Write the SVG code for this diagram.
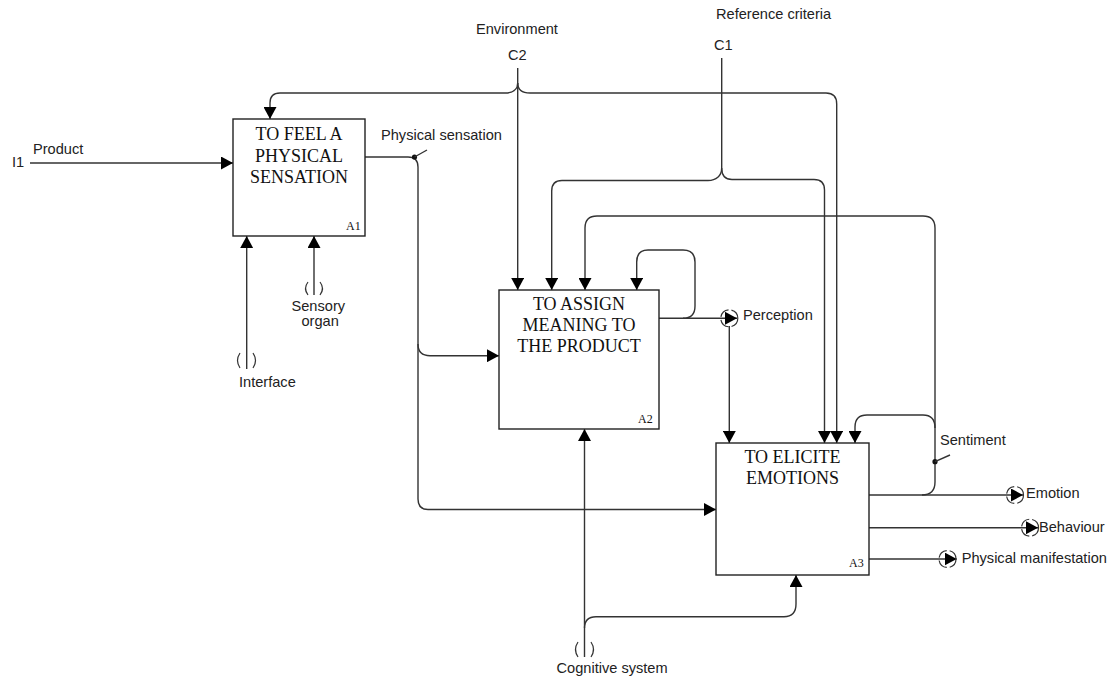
<svg xmlns="http://www.w3.org/2000/svg" width="1114" height="681" viewBox="0 0 1114 681">
<style>
.box{fill:#fff;stroke:#222;stroke-width:1.4}
.t{font-family:"Liberation Serif","Times New Roman",serif;font-size:18px;fill:#111;text-anchor:middle}
.n{font-family:"Liberation Serif","Times New Roman",serif;font-size:12px;fill:#111}
.l{font-family:"Liberation Sans",Arial,sans-serif;font-size:14.6px;fill:#222}
.c{fill:none;stroke:#333;stroke-width:1.4}
.a{marker-end:url(#ah)}
.tun{fill:none;stroke:#333;stroke-width:1.2}
.dot{fill:#111}
</style>
<defs>
<marker id="ah" markerUnits="userSpaceOnUse" markerWidth="12" markerHeight="13" refX="12" refY="6.5" orient="auto">
<path d="M0,0 L12,6.5 L0,13 z" fill="#000"/>
</marker>
</defs>
<rect width="1114" height="681" fill="#fff"/>
<g id="connectors">
<!-- Product -->
<path class="c a" d="M30 163 H233"/>
<!-- Environment C2 -->
<path class="c a" d="M517.7 68 V290"/>
<path class="c a" d="M517.7 83 C517.7 90 512 93 505 93 H280 Q270 93 270 103 V119"/>
<path class="c a" d="M517.7 83 C517.7 90 523 93 530 93 H826 Q836.7 93 836.7 104 V443"/>
<!-- Reference criteria C1 -->
<path class="c" d="M721.7 58 V168"/>
<path class="c a" d="M721.7 168 C721.7 176 716 180.5 708 180.5 H562 Q551.7 180.5 551.7 191 V290"/>
<path class="c a" d="M721.7 168 C721.7 176 726 179.5 732 179.5 H814 Q824.5 179.5 824.5 190 V443"/>
<!-- Physical sensation -->
<path class="c a" d="M365 157 H408 Q418 157 418 167 V499 Q418 509.5 428 509.5 H716"/>
<path class="c a" d="M418 344 Q418 355.7 430 355.7 H499"/>
<circle class="dot" cx="414.5" cy="157" r="2.6"/>
<path class="c" d="M414.5 157 L427 150"/>
<!-- Interface -->
<path class="c a" d="M246.7 369 V236"/>
<path class="tun" d="M240 353 Q235 360.5 240 368 M253 353 Q258 360.5 253 368"/>
<!-- Sensory organ -->
<path class="c a" d="M314 295 V236"/>
<path class="tun" d="M308 282 Q303 288.5 308 295 M320 282 Q325 288.5 320 295"/>
<!-- Cognitive system -->
<path class="c a" d="M584.5 657 V429"/>
<path class="c a" d="M584.5 628 Q584.5 616.7 596 616.7 H784 Q796 616.7 796 604 V575"/>
<path class="tun" d="M578 642 Q573 649.5 578 657 M591 642 Q596 649.5 591 657"/>
<!-- Perception -->
<path class="c a" d="M659 318.3 H737"/>
<path class="c a" d="M683 318.3 Q695 318.3 695 306 V262 Q695 250 683 250 H648 Q636.7 250 636.7 262 V290"/>
<path class="c a" d="M729.3 326 V443"/>
<circle class="tun" cx="729.3" cy="318.3" r="8.5" stroke-dasharray="11 3"/>
<!-- Emotion / Sentiment -->
<path class="c a" d="M869 495 H1023"/>
<path class="c a" d="M922 495 Q935 495 935 482 V228 Q935 216 923 216 H597 Q585 216 585 228 V290"/>
<path class="c a" d="M935 428 Q935 415 923 415 H867 Q855 415 855 427 V443"/>
<circle class="dot" cx="935" cy="461.7" r="2.6"/>
<path class="c" d="M935 461.7 L950 455"/>
<circle class="tun" cx="1015" cy="495" r="8.5" stroke-dasharray="11 3"/>
<!-- Behaviour -->
<path class="c a" d="M869 527.7 H1038"/>
<circle class="tun" cx="1030" cy="527.7" r="8.5" stroke-dasharray="11 3"/>
<!-- Physical manifestation -->
<path class="c a" d="M869 559 H956.7"/>
<circle class="tun" cx="947.5" cy="559" r="8.5" stroke-dasharray="11 3"/>
</g>
<g id="A1">
<rect class="box" x="233" y="119" width="132" height="117"/>
<text class="t" x="299" y="140">TO FEEL A</text>
<text class="t" x="299" y="161.5">PHYSICAL</text>
<text class="t" x="299" y="183">SENSATION</text>
<text class="n" x="346" y="230">A1</text>
</g>
<g id="A2">
<rect class="box" x="499" y="290" width="160" height="139"/>
<text class="t" x="579" y="310">TO ASSIGN</text>
<text class="t" x="579" y="331">MEANING TO</text>
<text class="t" x="579" y="352">THE PRODUCT</text>
<text class="n" x="638" y="423">A2</text>
</g>
<g id="A3">
<rect class="box" x="716" y="443" width="153" height="132"/>
<text class="t" x="792.5" y="463">TO ELICITE</text>
<text class="t" x="792.5" y="484">EMOTIONS</text>
<text class="n" x="849" y="567">A3</text>
</g>
<g id="labels">
<text class="l" x="476" y="34">Environment</text>
<text class="l" x="508" y="60">C2</text>
<text class="l" x="716" y="19">Reference criteria</text>
<text class="l" x="714" y="50">C1</text>
<text class="l" x="12" y="166.5">I1</text>
<text class="l" x="33" y="154">Product</text>
<text class="l" x="381" y="140">Physical sensation</text>
<text class="l" x="239" y="386.5">Interface</text>
<text class="l" x="291.5" y="310.5">Sensory</text>
<text class="l" x="301.5" y="326">organ</text>
<text class="l" x="556.5" y="673">Cognitive system</text>
<text class="l" x="743" y="320">Perception</text>
<text class="l" x="940" y="445">Sentiment</text>
<text class="l" x="1026" y="498.3">Emotion</text>
<text class="l" x="1039" y="531.7">Behaviour</text>
<text class="l" x="961.7" y="563">Physical manifestation</text>
</g>
</svg>
